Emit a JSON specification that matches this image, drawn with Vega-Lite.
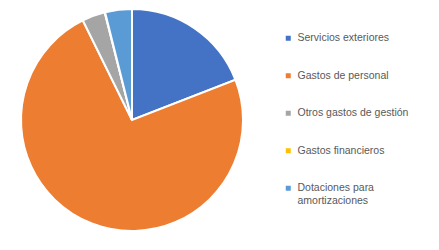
{
  "$schema": "https://vega.github.io/schema/vega-lite/v6.json",
  "width": 264,
  "height": 240,
  "padding": 0,
  "autosize": {"type": "pad"},
  "background": "white",
  "data": {
    "values": [
      {"categoria": "Servicios exteriores", "valor": 19.1, "orden": 1},
      {"categoria": "Gastos de personal", "valor": 73.6, "orden": 2},
      {"categoria": "Otros gastos de gestión", "valor": 3.35, "orden": 3},
      {"categoria": "Gastos financieros", "valor": 0.05, "orden": 4},
      {"categoria": "Dotaciones para amortizaciones", "valor": 3.9, "orden": 5}
    ]
  },
  "mark": {"type": "arc", "outerRadius": 111, "stroke": "white", "strokeWidth": 2},
  "encoding": {
    "theta": {"field": "valor", "type": "quantitative", "stack": true},
    "order": {"field": "orden", "type": "quantitative"},
    "color": {
      "field": "categoria",
      "type": "nominal",
      "sort": null,
      "scale": {
        "domain": ["Servicios exteriores", "Gastos de personal", "Otros gastos de gestión", "Gastos financieros", "Dotaciones para amortizaciones"],
        "range": ["#4472C4", "#ED7D31", "#A5A5A5", "#FFC000", "#5B9BD5"]
      },
      "legend": {
        "title": null,
        "orient": "none",
        "legendX": 283,
        "legendY": 33,
        "symbolType": "square",
        "symbolSize": 25,
        "symbolStrokeWidth": 0,
        "labelFont": "Liberation Sans",
        "labelFontSize": 10.5,
        "labelColor": "#595959",
        "labelOffset": 4,
        "labelLimit": 200,
        "rowPadding": 26.5,
        "labelExpr": "datum.label == 'Dotaciones para amortizaciones' ? ['Dotaciones para', 'amortizaciones'] : datum.label",
        "labelLineHeight": 15
      }
    }
  },
  "config": {"view": {"stroke": null}}
}
